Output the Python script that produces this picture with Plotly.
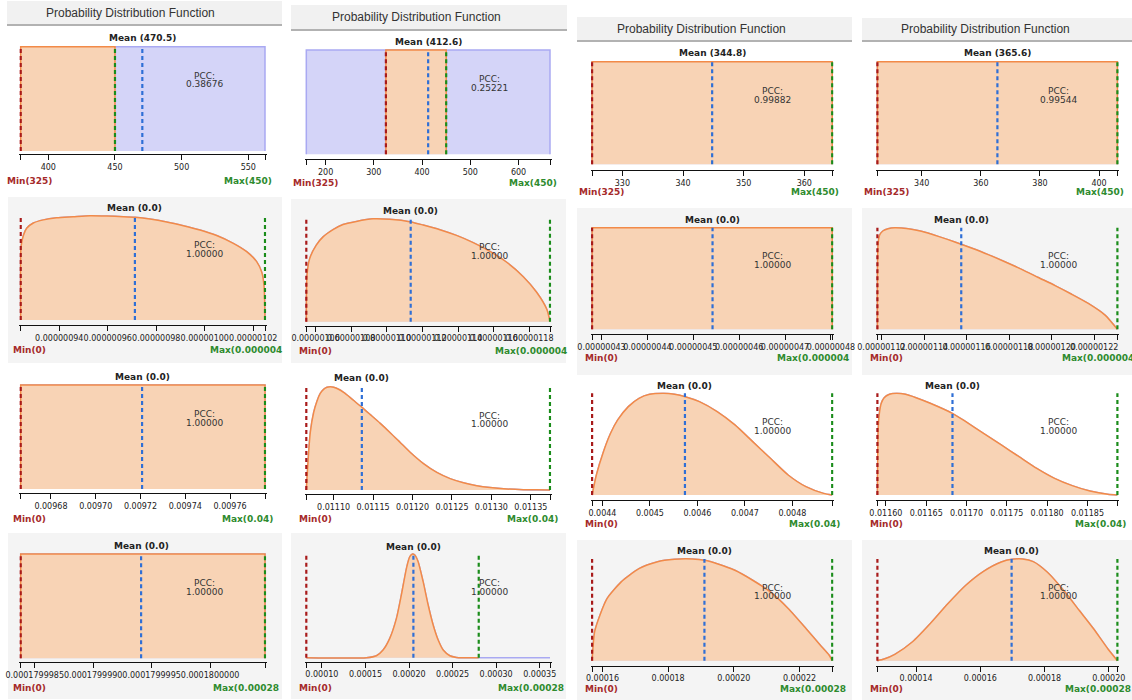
import plotly.graph_objects as go

W, H = 1132, 700

# ---------------- distribution curves: x in parameter units, y = relative density ----------------
# Row 1 - uniform fits of the input parameter
r1c1_x = [379.3, 379.3, 562.5, 562.5]
r1c1_y = [0, 1, 1, 0]
r1c2_x = [160.0, 160.0, 665.2, 665.2]
r1c2_y = [0, 1, 1, 0]
r1c3_x = [325.0, 325.0, 364.6, 364.6]
r1c3_y = [0, 1, 1, 0]
r1c4_x = [325.0, 325.0, 406.2, 406.2]
r1c4_y = [0, 1, 1, 0]

# Row 2
r2c1_x = [0.92410e-6, 0.92424e-6, 0.92520e-6, 0.92656e-6, 0.92931e-6, 0.93343e-6, 0.93893e-6,
          0.94580e-6, 0.95268e-6, 0.95955e-6, 0.96642e-6, 0.97124e-6, 0.97742e-6, 0.98430e-6,
          0.99117e-6, 0.99804e-6, 1.00492e-6, 1.01179e-6, 1.01729e-6, 1.02141e-6, 1.02348e-6,
          1.02444e-6, 1.02485e-6]
r2c1_y = [0, 0.70, 0.81, 0.88, 0.93, 0.96, 0.98, 0.99, 1.0, 0.997, 0.99, 0.984, 0.968, 0.94,
          0.904, 0.863, 0.81, 0.735, 0.655, 0.56, 0.46, 0.33, 0]
r2c2_x = [1.0548e-6, 1.0552e-6, 1.0567e-6, 1.0604e-6, 1.0642e-6, 1.0698e-6, 1.0754e-6, 1.0829e-6,
          1.0923e-6, 1.1016e-6, 1.1135e-6, 1.1204e-6, 1.1298e-6, 1.1391e-6, 1.1485e-6, 1.1579e-6,
          1.1673e-6, 1.1766e-6, 1.1841e-6, 1.1898e-6, 1.1916e-6]
r2c2_y = [0, 0.45, 0.61, 0.74, 0.82, 0.89, 0.94, 0.97, 0.995, 0.99, 0.965, 0.935, 0.89, 0.835,
          0.765, 0.68, 0.575, 0.435, 0.285, 0.12, 0]
r2c3_x = [4.2795e-7, 4.2795e-7, 4.8028e-7, 4.8028e-7]
r2c3_y = [0, 1, 1, 0]
r2c4_x = [1.1181e-6, 1.1184e-6, 1.1192e-6, 1.1208e-6, 1.1231e-6, 1.1263e-6, 1.1294e-6, 1.1341e-6,
          1.1388e-6, 1.1467e-6, 1.1545e-6, 1.1623e-6, 1.1702e-6, 1.1780e-6, 1.1859e-6, 1.1937e-6,
          1.2016e-6, 1.2094e-6, 1.2172e-6, 1.2251e-6, 1.2309e-6]
r2c4_y = [0, 0.83, 0.93, 0.97, 0.99, 1.0, 0.997, 0.985, 0.965, 0.915, 0.86, 0.80, 0.735, 0.665,
          0.59, 0.51, 0.43, 0.345, 0.255, 0.14, 0]

# Row 3
r3c1_x = [0.0096665, 0.0096665, 0.0097756, 0.0097756]
r3c1_y = [0, 1, 1, 0]
r3c2_x = [0.0110654, 0.0110684, 0.0110705, 0.0110747, 0.0110789, 0.0110831, 0.0110873, 0.0110916,
          0.0110958, 0.0111000, 0.0111063, 0.0111127, 0.0111211, 0.0111295, 0.0111359, 0.0111464,
          0.0111591, 0.0111717, 0.0111844, 0.0111970, 0.0112139, 0.0112308, 0.0112477, 0.0112645,
          0.0112814, 0.0112983, 0.0113194, 0.0113405, 0.0113743]
r3c2_y = [0, 0.37, 0.56, 0.75, 0.86, 0.935, 0.974, 0.994, 1.0, 0.995, 0.975, 0.945, 0.895, 0.84,
          0.80, 0.73, 0.645, 0.555, 0.46, 0.365, 0.255, 0.17, 0.11, 0.07, 0.042, 0.024, 0.01,
          0.003, 0]
r3c3_x = [0.0043782, 0.0043872, 0.0044021, 0.0044171, 0.0044321, 0.0044545, 0.0044769, 0.0044994,
          0.0045293, 0.0045517, 0.0045741, 0.0046041, 0.0046415, 0.0046789, 0.0047163, 0.0047536,
          0.0047910, 0.0048284, 0.0048658, 0.0048838]
r3c3_y = [0, 0.197, 0.426, 0.607, 0.738, 0.869, 0.951, 0.990, 1.0, 0.990, 0.967, 0.918, 0.820, 0.689,
          0.525, 0.361, 0.197, 0.082, 0.016, 0]
r3c4_x = [0.0115895, 0.0115904, 0.0115917, 0.0115943, 0.0115979, 0.0116045, 0.0116133, 0.0116243,
          0.0116374, 0.0116550, 0.0116824, 0.0116991, 0.0117211, 0.0117431, 0.0117651, 0.0117871,
          0.0118092, 0.0118311, 0.0118531, 0.0118752, 0.0118871]
r3c4_y = [0, 0.623, 0.787, 0.902, 0.957, 0.990, 1.0, 0.990, 0.957, 0.902, 0.803, 0.721, 0.607, 0.492,
          0.377, 0.262, 0.164, 0.092, 0.039, 0.007, 0]

# Row 4
r4c1_x = [0.00017999838, 0.00017999838, 0.00018000047, 0.00018000047]
r4c1_y = [0, 1, 1, 0]
r4c2_x = [8.210e-5, 1.5107e-4, 1.6256e-4, 1.7022e-4, 1.7788e-4, 1.8555e-4, 1.9130e-4, 1.9704e-4,
          2.0087e-4, 2.0394e-4, 2.0662e-4, 2.1045e-4, 2.1620e-4, 2.2195e-4, 2.2769e-4, 2.3344e-4,
          2.3919e-4, 2.4685e-4, 2.5451e-4, 2.6218e-4, 3.6179e-4]
r4c2_y = [0, 0, 0.019, 0.074, 0.186, 0.379, 0.61, 0.862, 0.974, 1.0, 0.99, 0.926, 0.733, 0.508,
          0.315, 0.17, 0.074, 0.019, 0.003, 0, 0]
r4c3_x = [0.00015685, 0.00015761, 0.00015923, 0.00016139, 0.00016572, 0.00017112, 0.00017653,
          0.00018194, 0.00018735, 0.00019113, 0.00019492, 0.00020032, 0.00020573, 0.00021114,
          0.00021654, 0.00022195, 0.00022628, 0.00022898, 0.00022995]
r4c3_y = [0, 0.284, 0.448, 0.611, 0.775, 0.905, 0.971, 0.997, 1.0, 0.987, 0.954, 0.889, 0.791, 0.676,
          0.513, 0.317, 0.154, 0.056, 0]
r4c4_x = [0.00012796, 0.00013006, 0.00013338, 0.00013890, 0.00014443, 0.00014995, 0.00015548,
          0.00016100, 0.00016652, 0.00016984, 0.00017315, 0.00017647, 0.00018089, 0.00018641,
          0.00019083, 0.00019525, 0.00019967, 0.00020267]
r4c4_y = [0, 0.016, 0.062, 0.186, 0.366, 0.562, 0.742, 0.879, 0.971, 0.997, 1.0, 0.974, 0.869, 0.673,
          0.493, 0.314, 0.118, 0]

curves_x = [[r1c1_x, r1c2_x, r1c3_x, r1c4_x], [r2c1_x, r2c2_x, r2c3_x, r2c4_x],
            [r3c1_x, r3c2_x, r3c3_x, r3c4_x], [r4c1_x, r4c2_x, r4c3_x, r4c4_x]]
curves_y = [[r1c1_y, r1c2_y, r1c3_y, r1c4_y], [r2c1_y, r2c2_y, r2c3_y, r2c4_y],
            [r3c1_y, r3c2_y, r3c3_y, r3c4_y], [r4c1_y, r4c2_y, r4c3_y, r4c4_y]]

# ---------------- statistics ----------------
mean_vals = [
    [470.5, 412.6, 344.8, 365.6],
    [0.9712e-6, 1.1134e-6, 4.542e-7, 1.1575e-6],
    [0.0097207, 0.0111358, 0.0045737, 0.0116826],
    [0.00017999941, 0.000205, 0.00019105, 0.00016974],
]
mean_text = [["470.5", "412.6", "344.8", "365.6"], ["0.0"] * 4, ["0.0"] * 4, ["0.0"] * 4]
pcc_text = [["0.38676", "0.25221", "0.99882", "0.99544"], ["1.00000"] * 4, ["1.00000"] * 4, ["1.00000"] * 4]
min_vals = [325, 0, 0, 0]
max_vals = [450, 0.000004, 0.04, 0.00028]
min_text = ["Min(325)", "Min(0)", "Min(0)", "Min(0)"]
max_text = ["Max(450)", "Max(0.000004", "Max(0.04)", "Max(0.00028"]

# ---------------- tick labels ----------------
tick_vals = [
    [[400, 450, 500, 550], [200, 300, 400, 500, 600], [330, 340, 350, 360], [340, 360, 380, 400]],
    [[0.94e-6, 0.96e-6, 0.98e-6, 1.00e-6, 1.02e-6],
     [1.06e-6, 1.08e-6, 1.10e-6, 1.12e-6, 1.14e-6, 1.16e-6, 1.18e-6],
     [4.3e-7, 4.4e-7, 4.5e-7, 4.6e-7, 4.7e-7, 4.8e-7],
     [1.12e-6, 1.14e-6, 1.16e-6, 1.18e-6, 1.20e-6, 1.22e-6]],
    [[0.00968, 0.00970, 0.00972, 0.00974, 0.00976],
     [0.01110, 0.01115, 0.01120, 0.01125, 0.01130, 0.01135],
     [0.0044, 0.0045, 0.0046, 0.0047, 0.0048],
     [0.01160, 0.01165, 0.01170, 0.01175, 0.01180, 0.01185]],
    [[0.0001799985, 0.0001799990, 0.0001799995, 0.0001800000],
     [0.00010, 0.00015, 0.00020, 0.00025, 0.00030, 0.00035],
     [0.00016, 0.00018, 0.00020, 0.00022],
     [0.00014, 0.00016, 0.00018, 0.00020]],
]
tick_text = [
    [["400", "450", "500", "550"], ["200", "300", "400", "500", "600"],
     ["330", "340", "350", "360"], ["340", "360", "380", "400"]],
    [["0.00000094", "0.00000096", "0.00000098", "0.00000100", "0.00000102"],
     ["0.00000106", "0.00000108", "0.00000110", "0.00000112", "0.00000114", "0.00000116", "0.00000118"],
     ["0.00000043", "0.00000044", "0.00000045", "0.00000046", "0.00000047", "0.00000048"],
     ["0.00000112", "0.00000114", "0.00000116", "0.00000118", "0.00000120", "0.00000122"]],
    [["0.00968", "0.00970", "0.00972", "0.00974", "0.00976"],
     ["0.01110", "0.01115", "0.01120", "0.01125", "0.01130", "0.01135"],
     ["0.0044", "0.0045", "0.0046", "0.0047", "0.0048"],
     ["0.01160", "0.01165", "0.01170", "0.01175", "0.01180", "0.01185"]],
    [["0.0001799985", "0.0001799990", "0.0001799995", "0.0001800000"],
     ["0.00010", "0.00015", "0.00020", "0.00025", "0.00030", "0.00035"],
     ["0.00016", "0.00018", "0.00020", "0.00022"],
     ["0.00014", "0.00016", "0.00018", "0.00020"]],
]

# ---------------- layout geometry (pixels) ----------------
COL_X = [(20.7, 265.0), (306.3, 550.0), (592.1, 832.2), (877.4, 1117.4)]
# (curve top, baseline, axis line, mean label, min/max label)
ROW_Y = [
    [(46.7, 151.0, 154.3, 38.3, 181.0), (50.0, 154.3, 159.3, 42.3, 183.3),
     (61.7, 164.3, 170.0, 53.3, 192.0), (61.7, 164.3, 170.0, 53.3, 192.3)],
    [(215.7, 320.0, 325.0, 208.3, 350.0), (218.3, 321.7, 325.7, 210.7, 350.7),
     (227.7, 329.3, 334.3, 220.0, 358.3), (227.7, 329.3, 334.3, 220.0, 358.3)],
    [(385.0, 489.0, 493.3, 377.3, 519.0), (386.7, 490.0, 494.3, 378.3, 519.0),
     (393.3, 495.0, 500.0, 385.7, 524.0), (393.3, 495.0, 500.0, 385.7, 524.0)],
    [(554.0, 658.3, 662.3, 546.0, 687.7), (554.0, 657.7, 661.7, 546.7, 687.7),
     (559.0, 660.7, 665.7, 551.0, 689.3), (559.0, 660.7, 665.7, 551.0, 689.3)],
]
EDGE_PAD = 1.5  # px of room so strokes on the extreme values are not cut
MAX_OFFSET = [43.0, 57.5, 44.7, 54.5]
HEADERS = [(7, 282, 1, 26, 130.0, 13.5), (291, 567, 5, 31, 416.7, 17.0),
           (577, 852, 17, 42, 701.0, 29.3), (862, 1132, 18, 42, 985.0, 29.3)]
GRAY_PANELS = [(8, 197, 282, 363), (291, 199, 566, 363), (577, 208, 852, 375), (862, 208, 1132, 375),
               (8, 533, 282, 699), (291, 533, 566, 699), (577, 540, 852, 700), (862, 540, 1132, 700)]

ORANGE_FILL, ORANGE_LINE = "#f8d3b5", "#f28a48"
BLUE_FILL, BLUE_LINE = "#d4d4f8", "#a9a9f2"
RED, GREEN, BLUE = "#a81a1a", "#1a8c1a", "#2f6fd6"
MIN_COLOR, MAX_COLOR = "#a52a2a", "#2e8b2e"
TXT = "#222222"


def px_x(v):
    return v / W


def px_y(v):
    return 1 - v / H


def clip_curve(xs, ys, lo, hi):
    ox, oy = [], []
    for i in range(len(xs)):
        x, y = xs[i], ys[i]
        if i > 0:
            x0, y0 = xs[i - 1], ys[i - 1]
            for b in (lo, hi):
                if (x0 - b) * (x - b) < 0:
                    t = (b - x0) / (x - x0)
                    ox.append(b)
                    oy.append(y0 + t * (y - y0))
        if lo <= x <= hi:
            ox.append(x)
            oy.append(y)
    return [ox[0]] + ox + [ox[-1]], [0] + oy + [0]


fig = go.Figure()
shapes, annotations = [], []

for (x0, y0, x1, y1) in GRAY_PANELS:
    shapes.append(dict(type="rect", xref="paper", yref="paper", x0=px_x(x0), x1=px_x(x1),
                       y0=px_y(y1), y1=px_y(y0), fillcolor="#f4f4f4", line_width=0, layer="below"))

for (x0, x1, y0, y1, tx, ty) in HEADERS:
    shapes.append(dict(type="rect", xref="paper", yref="paper", x0=px_x(x0), x1=px_x(x1),
                       y0=px_y(y1), y1=px_y(y0), fillcolor="#f1f1f1", line_width=0, layer="below"))
    shapes.append(dict(type="line", xref="paper", yref="paper", x0=px_x(x0), x1=px_x(x1),
                       y0=px_y(y1 - 1), y1=px_y(y1 - 1), line=dict(color="#b2b2b2", width=2), layer="below"))
    annotations.append(dict(text="Probability Distribution Function", xref="paper", yref="paper",
                            x=px_x(tx), y=px_y(ty), xanchor="center", yanchor="middle", showarrow=False,
                            font=dict(family="Liberation Sans", size=12, color="#333333")))

layout_axes = {}
n = 0
for r in range(4):
    for c in range(4):
        n += 1
        xs, ys = curves_x[r][c], curves_y[r][c]
        lo, hi = min(xs), max(xs)
        left, right = COL_X[c]
        per_px = (hi - lo) / (right - left)
        top, base, axis, mean_y, mm_y = ROW_Y[r][c]
        top_d = top - 1
        span_px = base - top
        y_lo = -(axis - base) / span_px
        y_hi = 1 + 1 / span_px
        sfx = "" if n == 1 else str(n)
        xa, ya = "x" + sfx, "y" + sfx
        shape = "linear" if len(xs) <= 4 else "spline"

        fig.add_trace(go.Scatter(x=xs, y=ys, xaxis=xa, yaxis=ya, mode="lines", fill="toself",
                                 fillcolor=BLUE_FILL, line=dict(color=BLUE_LINE, width=1.5, shape=shape,
                                                                smoothing=0.6),
                                 hoverinfo="skip", showlegend=False))
        ox, oy = clip_curve(xs, ys, min_vals[r], max_vals[r])
        fig.add_trace(go.Scatter(x=ox, y=oy, xaxis=xa, yaxis=ya, mode="lines", fill="toself",
                                 fillcolor=ORANGE_FILL, line=dict(color=ORANGE_LINE, width=1.5, shape=shape,
                                                                  smoothing=0.6),
                                 hoverinfo="skip", showlegend=False))

        tv = [lo] + tick_vals[r][c] + [hi]
        tt = [""] + tick_text[r][c] + [""]
        layout_axes["xaxis" + sfx] = dict(
            domain=[px_x(left - EDGE_PAD), px_x(right + EDGE_PAD)], anchor=ya,
            range=[lo - EDGE_PAD * per_px, hi + EDGE_PAD * per_px], showgrid=False, zeroline=False,
            showline=True, linecolor="#111111", linewidth=1, ticks="outside", ticklen=5, tickwidth=1,
            tickcolor="#111111", tickmode="array", tickvals=tv, ticktext=tt, tickangle=0,
            automargin=False, ticklabeloverflow="allow",
            tickfont=dict(family="DejaVu Sans", size=8, color="#222222"), fixedrange=True)
        layout_axes["yaxis" + sfx] = dict(domain=[px_y(axis), px_y(top_d)], anchor=xa, range=[y_lo, y_hi],
                                          visible=False, automargin=False, fixedrange=True)

        yb = (axis - base) / (axis - top_d)
        yt = (axis - top) / (axis - top_d)
        line_pos = [(min(max(min_vals[r], lo), hi), RED), (min(max(max_vals[r], lo), hi), GREEN),
                    (mean_vals[r][c], BLUE)]
        for xv, col in line_pos:
            shapes.append(dict(type="line", xref=xa, yref=ya + " domain", x0=xv, x1=xv, y0=yb, y1=yt,
                               line=dict(color=col, width=2.2, dash="4px,3px"), layer="above"))

        annotations.append(dict(text="Mean (" + mean_text[r][c] + ")", xref=xa, yref="paper",
                                x=mean_vals[r][c], y=px_y(mean_y), xanchor="center", yanchor="middle",
                                showarrow=False, font=dict(family="DejaVu Sans", size=9, color=TXT,
                                                           weight="bold")))
        pcc_y = 1 - ((top + 0.31 * (axis - top)) - top_d) / (axis - top_d)
        annotations.append(dict(text="PCC:", xref=xa + " domain", yref=ya + " domain", x=0.75, y=pcc_y,
                                yshift=4.4, xanchor="center", yanchor="middle", showarrow=False,
                                font=dict(family="DejaVu Sans", size=9, color="#333333")))
        annotations.append(dict(text=pcc_text[r][c], xref=xa + " domain", yref=ya + " domain", x=0.75,
                                y=pcc_y, yshift=-4.4, xanchor="center", yanchor="middle", showarrow=False,
                                font=dict(family="DejaVu Sans", size=9, color="#333333")))
        annotations.append(dict(text=min_text[r], xref="paper", yref="paper", x=px_x(left + 9),
                                y=px_y(mm_y), xanchor="center", yanchor="middle", showarrow=False,
                                font=dict(family="DejaVu Sans", size=9, color=MIN_COLOR, weight="bold")))
        annotations.append(dict(text=max_text[r], xref="paper", yref="paper", x=px_x(right - MAX_OFFSET[r]),
                                y=px_y(mm_y), xanchor="left", yanchor="middle", showarrow=False,
                                font=dict(family="DejaVu Sans", size=9, color=MAX_COLOR, weight="bold")))

fig.update_layout(width=W, height=H, margin=dict(l=0, r=0, t=0, b=0, autoexpand=False),
                  paper_bgcolor="white", plot_bgcolor="rgba(0,0,0,0)", shapes=shapes,
                  annotations=annotations, showlegend=False, **layout_axes)

fig.write_html("out.html")
